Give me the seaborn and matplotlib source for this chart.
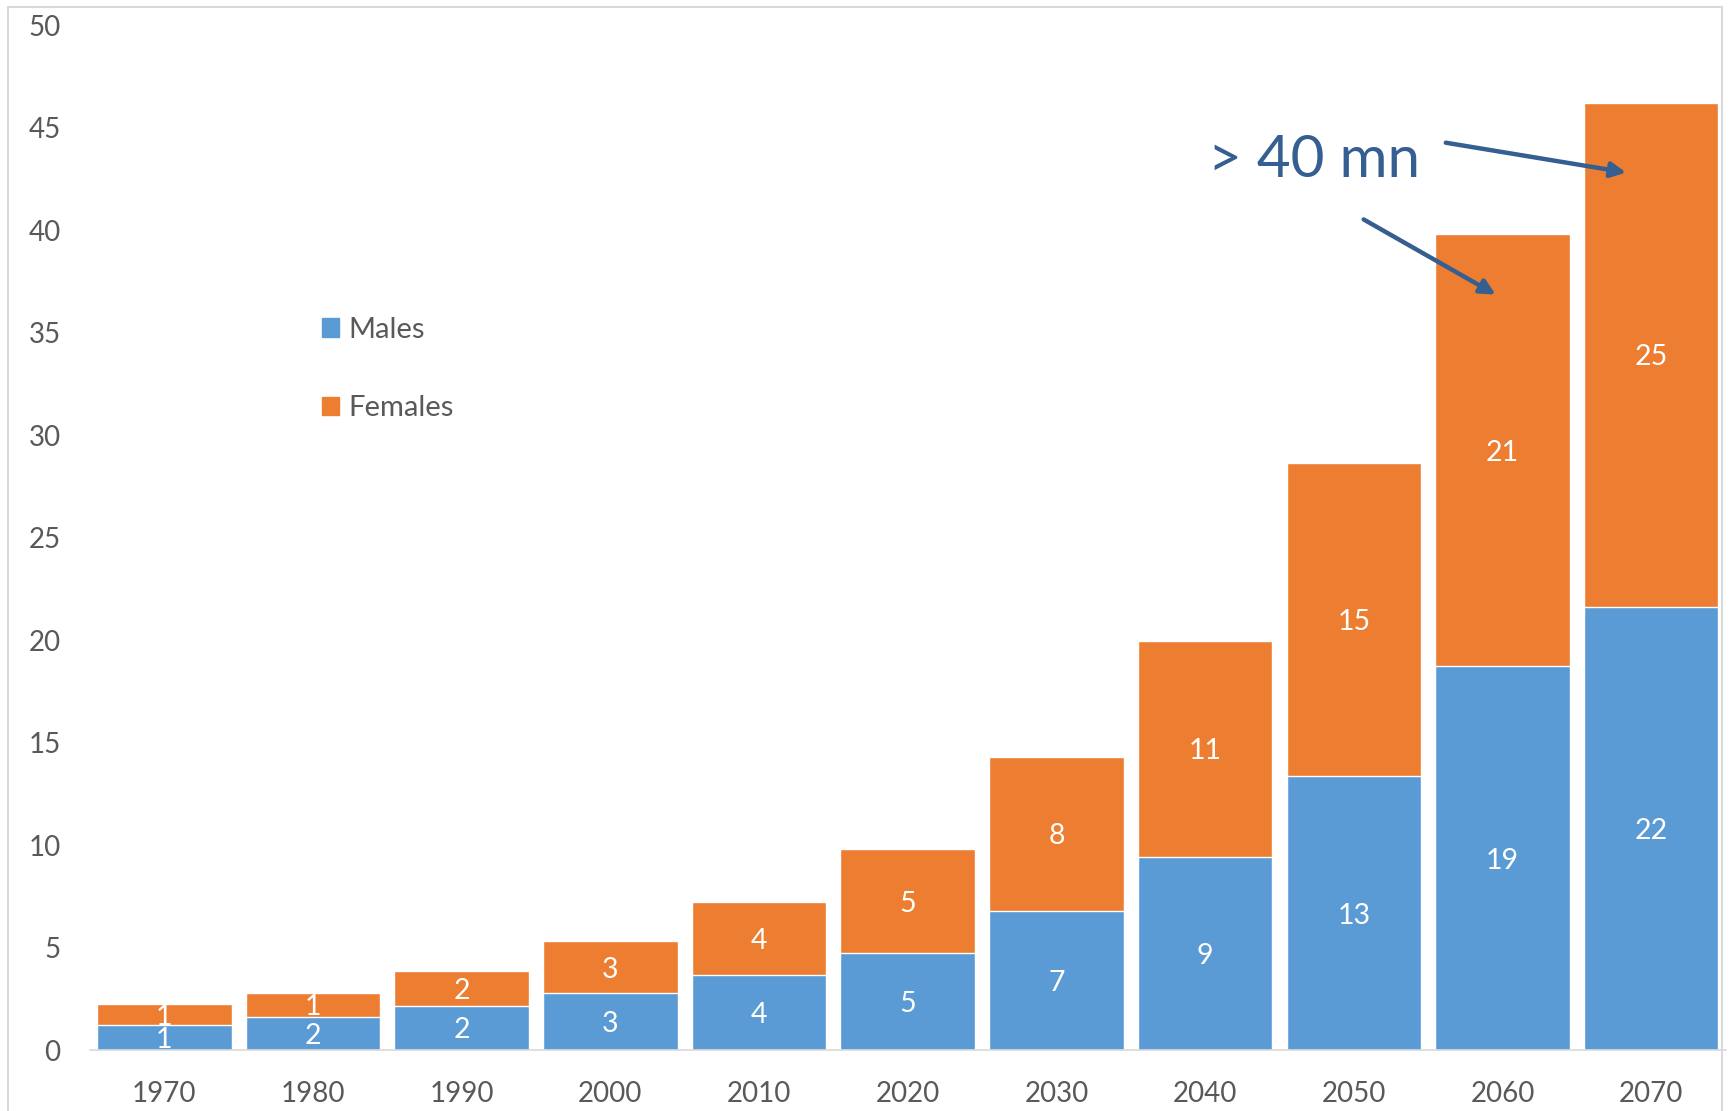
import matplotlib
matplotlib.use("Agg")
import matplotlib.pyplot as plt
import matplotlib.patches as mpatches
from matplotlib.patches import Patch
import seaborn as sns
import numpy as np
import pandas as pd

# data (millions)
years = ["1970", "1980", "1990", "2000", "2010", "2020", "2030", "2040", "2050", "2060", "2070"]
males = [1.2, 1.6, 2.15, 2.8, 3.66, 4.74, 6.78, 9.42, 13.35, 18.73, 21.64]
females = [1.05, 1.2, 1.7, 2.5, 3.55, 5.06, 7.54, 10.55, 15.28, 21.1, 24.59]
male_labels = ["1", "2", "2", "3", "4", "5", "7", "9", "13", "19", "22"]
female_labels = ["1", "1", "2", "3", "4", "5", "8", "11", "15", "21", "25"]

blue = "#5B9BD5"
orange = "#ED7D31"
note_blue = "#355E91"
grey_txt = "#595959"

df = pd.DataFrame({"year": years, "Males": males, "Females": females})
df["total"] = df["Males"] + df["Females"]

sns.set_style("white")
plt.rcParams["font.family"] = ["Lato", "DejaVu Sans"]

fig = plt.figure(figsize=(17.29, 11.11), dpi=100)
ax = fig.add_axes([0.052, 0.0549, 0.946, 0.9222])

# stacked bars: totals in orange, males drawn over them in blue
sns.barplot(data=df, x="year", y="total", color=orange, width=0.905, saturation=1, ax=ax)
sns.barplot(data=df, x="year", y="Males", color=blue, width=0.905, saturation=1, ax=ax)

for i in range(len(years)):
    ax.text(i, males[i] / 2, male_labels[i], ha="center", va="center_baseline",
            color="white", fontsize=20.5)
    ax.text(i, males[i] + females[i] / 2, female_labels[i], ha="center", va="center_baseline",
            color="white", fontsize=20.5)

ax.set_ylim(0, 50)
ax.set_xlim(-0.5, len(years) - 0.5)
ax.set_yticks(np.arange(0, 51, 5))
ax.set_xlabel("")
ax.set_ylabel("")
ax.tick_params(axis="y", length=0, pad=21, labelsize=20, labelcolor=grey_txt)
ax.tick_params(axis="x", length=0, pad=22, labelsize=20, labelcolor=grey_txt)
for s in ["top", "right", "left"]:
    ax.spines[s].set_visible(False)
ax.spines["bottom"].set_color("#D9D9D9")
ax.spines["bottom"].set_linewidth(1.2)

handles = [Patch(color=blue, label="Males"), Patch(color=orange, label="Females")]
leg = fig.legend(handles=handles, loc="upper left", bbox_to_anchor=(310 / 1729, 1 - 305 / 1111),
                 frameon=False, fontsize=21, handlelength=0.6, handleheight=0.6,
                 handletextpad=0.3, labelspacing=1.8, borderaxespad=0)
for t in leg.get_texts():
    t.set_color(grey_txt)

# annotation
ax.text(7.73, 43.4, "> 40 mn", ha="center", va="center", fontsize=42, color=note_blue)
arrow_kw = dict(arrowstyle="-|>,head_length=0.9,head_width=0.45", color=note_blue, lw=3.2)
ax.annotate("", xy=(9.85, 42.8), xytext=(8.60, 44.3), arrowprops=arrow_kw)
ax.annotate("", xy=(8.97, 36.8), xytext=(8.05, 40.6), arrowprops=arrow_kw)

# light frame around the chart
fig.patches.append(mpatches.Rectangle((8 / 1729, -0.01), (1722 - 8) / 1729, 1.01 - 7 / 1111,
                                      transform=fig.transFigure, fill=False,
                                      edgecolor="#D9D9D9", linewidth=1.5))

fig.savefig("out.png", dpi=100)
